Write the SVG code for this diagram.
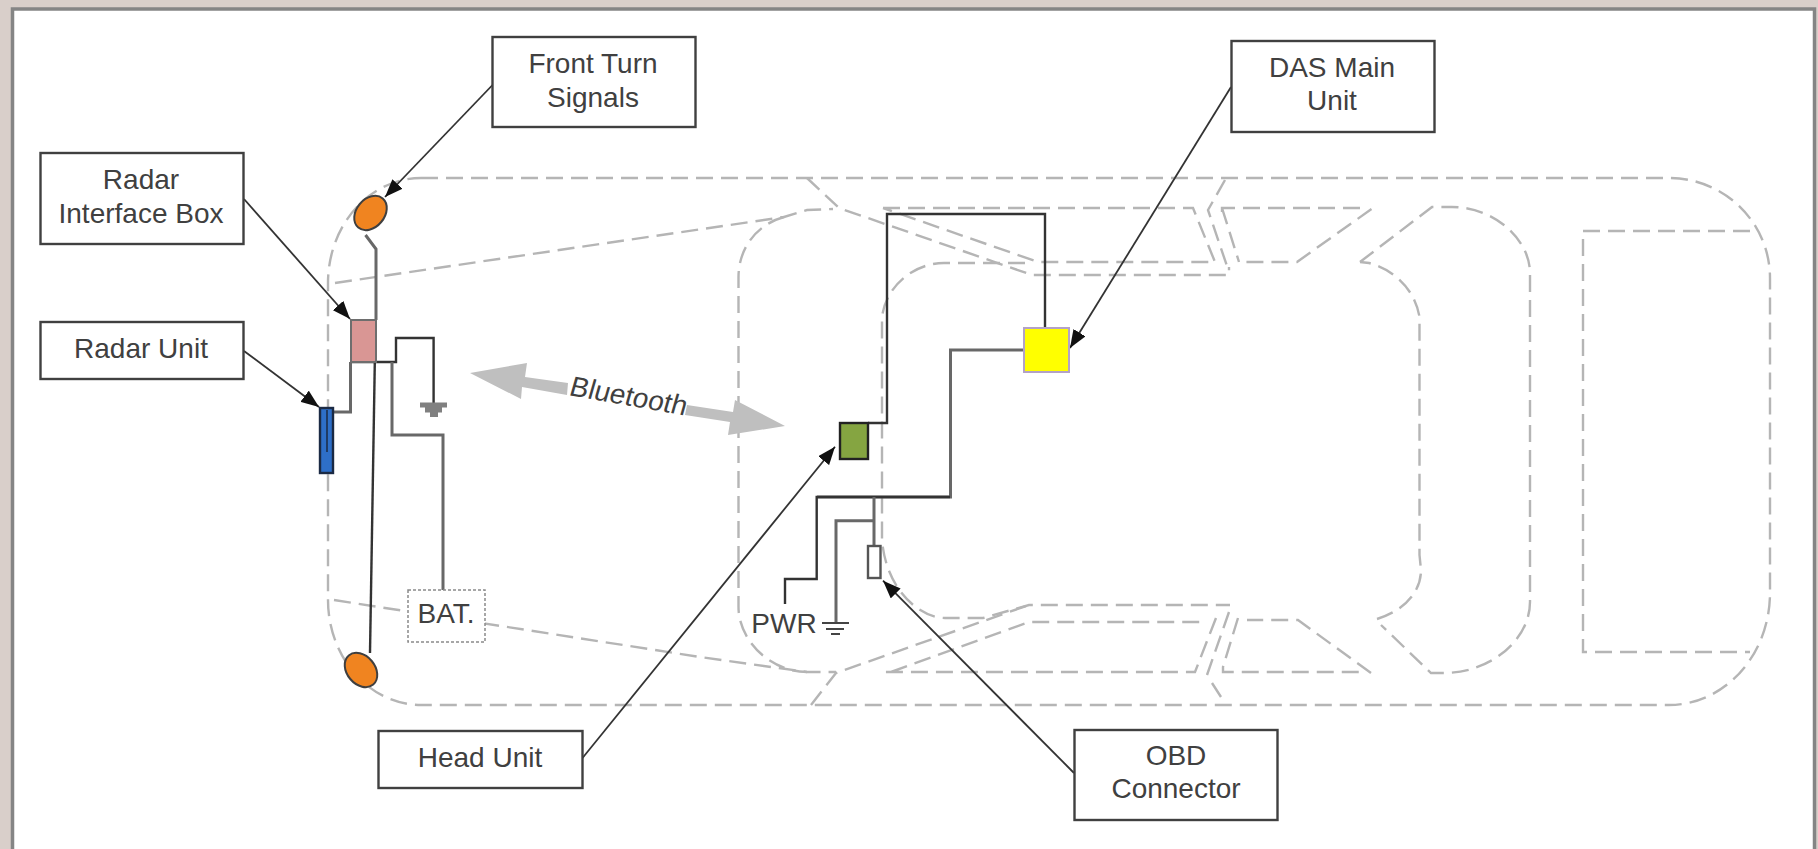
<svg xmlns="http://www.w3.org/2000/svg" width="1818" height="849" viewBox="0 0 1818 849">
<style>
.car{fill:none;stroke:#b5b5b5;stroke-width:2.4;stroke-dasharray:17 8}
.w{fill:none;stroke:#333;stroke-width:2.4}
.wg{fill:none;stroke:#686868;stroke-width:3}
.lead{fill:none;stroke:#333;stroke-width:1.8;marker-end:url(#ah)}
.box{fill:#fff;stroke:#404040;stroke-width:2.4}
text{font-family:"Liberation Sans",Arial,sans-serif;font-size:28px;fill:#404040;text-anchor:middle}
</style>
<defs>
<marker id="ah" markerUnits="userSpaceOnUse" markerWidth="20" markerHeight="14" refX="18" refY="7" orient="auto"><path d="M0 0L18 7L0 14Z" fill="#111"/></marker>
</defs>
<rect width="1818" height="849" fill="#d9cfca"/>
<rect x="12.500" y="9" width="1802" height="845" fill="#fff" stroke="#858585" stroke-width="3.500"/>
<g id="car-outline">
<path class="car" d="M421 178H1669A101 100 0 0 1 1770 278V593A101 112 0 0 1 1669 705H421A93 105 0 0 1 328 600V283A93 105 0 0 1 421 178Z"/>
<path class="car" d="M335 283L784 217L807 210L833 209"/>
<path class="car" d="M334 600L700 657L807 672L836 672"/>
<path class="car" d="M807 178L839 208L1032 275H1229V267"/>
<path class="car" d="M883 208H1193L1215 262H1038L883 208"/>
<path class="car" d="M1225 180L1208 210L1229 272"/>
<path class="car" d="M1222 212V208H1363M1371.500 209L1297 262H1245M1222 208L1239 262"/>
<path class="car" d="M784 217C755 225 738.500 250 738.500 277V607C738.500 640 770 672 807 672"/>
<path class="car" d="M1025 263H944C915 263 886 285 882 317V540C886 590 920 618 945 618H983L1029 605H1230"/>
<path class="car" d="M891 672L1029 622H1205M1216 618L1195 672H882"/>
<path class="car" d="M1229 612L1207 675M1212 683L1221 697M811 705L836 673L1029 605"/>
<path class="car" d="M1238 618L1223 667V672H1361M1371 673L1298 620H1247"/>
<path class="car" d="M1360 262L1432 207H1452C1495 207 1530 240 1530 273V602C1530 640 1490 673 1444 673H1431L1381 625"/>
<path class="car" d="M1377 619C1400 612 1421 595 1421 570L1419.500 555V317C1415 290 1395 270 1369 263L1360 262"/>
<path class="car" d="M1750 231H1583V652H1750"/>
</g>
<g id="connectors">
<path class="wg" d="M365.500 235L376 249V320"/>
<path class="w" d="M375.500 320L370 653"/>
<path class="w" d="M350.500 362H396V338H433.600V403"/>
<path class="wg" d="M392 362V435H443V590"/>
<path class="wg" d="M350.500 362V412H333"/>
<path class="w" d="M868 423H887V214H1045V328"/>
<path class="wg" d="M1024 350H950.500V497H817"/>
<path class="w" d="M950 497H816.700V579H785V604"/>
<path class="wg" d="M874 497V545.700M874 520.700H836V623"/>
<path class="lead" d="M244 199L350 319"/>
<path class="lead" d="M244 351L319 407"/>
<path class="lead" d="M492.500 85L385 197"/>
<path class="lead" d="M1231 87L1070 348"/>
<path class="lead" d="M582.500 758L835 446.700"/>
<path class="lead" d="M1074 773L883 580.700"/>
</g>
<g id="front-turn-signals"><rect class="box" x="492.500" y="37" width="203" height="90"/><text x="593" y="73">Front Turn</text><text x="593" y="107">Signals</text></g>
<g id="radar-interface-box"><rect class="box" x="40.500" y="153" width="203" height="91"/><text x="141" y="189">Radar</text><text x="141" y="223">Interface Box</text></g>
<g id="radar-unit"><rect class="box" x="40.500" y="322" width="203" height="57"/><text x="141" y="358">Radar Unit</text></g>
<g id="head-unit"><rect class="box" x="378.500" y="731" width="204" height="57"/><text x="480" y="767">Head Unit</text></g>
<g id="obd-connector"><rect class="box" x="1074.500" y="730" width="203" height="90"/><text x="1176" y="765">OBD</text><text x="1176" y="798">Connector</text></g>
<g id="das-main-unit"><rect class="box" x="1231.500" y="41" width="203" height="91"/><text x="1332" y="77">DAS Main</text><text x="1332" y="110">Unit</text></g>
<g id="front-lamp-top"><ellipse cx="370.500" cy="213" rx="19" ry="14" transform="rotate(-50 370.500 213)" fill="#f08420" stroke="#3f3f3f" stroke-width="2"/></g>
<g id="front-lamp-bottom"><ellipse cx="361" cy="670" rx="19" ry="14" transform="rotate(50 361 670)" fill="#f08420" stroke="#3f3f3f" stroke-width="2"/></g>
<g id="radar-interface"><rect x="351" y="320" width="25" height="42" fill="#d99694" stroke="#6e6e6e" stroke-width="2"/></g>
<g id="radar"><rect x="320" y="408" width="13" height="65" fill="#2e6fc8" stroke="#1b2a44" stroke-width="2.400"/><path d="M327 410V452" stroke="#1b2a44" stroke-width="1.500"/></g>
<g id="head"><rect x="840" y="423" width="28" height="36" fill="#85a541" stroke="#222" stroke-width="2.400"/></g>
<g id="das"><rect x="1024" y="328" width="45" height="44" fill="#ff0" stroke="#b3a2c7" stroke-width="2"/></g>
<g id="obd"><rect x="868" y="546" width="12.500" height="32" fill="#fff" stroke="#555" stroke-width="2.400"/></g>
<g id="battery"><rect x="408" y="590" width="77" height="52" fill="#fff" stroke="#8a8a8a" stroke-width="1.500" stroke-dasharray="3 2"/><text x="446" y="623">BAT.</text></g>
<g id="pwr"><text x="784" y="633">PWR</text></g>
<g id="ground-radar"><path d="M420 405H447M425 410H442M430 414.500H438" stroke="#808080" stroke-width="5" fill="none"/></g>
<g id="ground-pwr"><path d="M822 623H849M826 629H844M831 634H840" stroke="#444" stroke-width="2.200" fill="none"/></g>
<g id="bluetooth"><path d="M470 373L527 363L525 377L568 383L567 395L522 387L521 399Z" fill="#bfbfbf"/><path d="M687 405L733 412L735 400L785 426L728 435L730 422L685 415Z" fill="#bfbfbf"/><text transform="translate(568 395) rotate(10) skewX(-6)" style="text-anchor:start">Bluetooth</text></g>
</svg>
